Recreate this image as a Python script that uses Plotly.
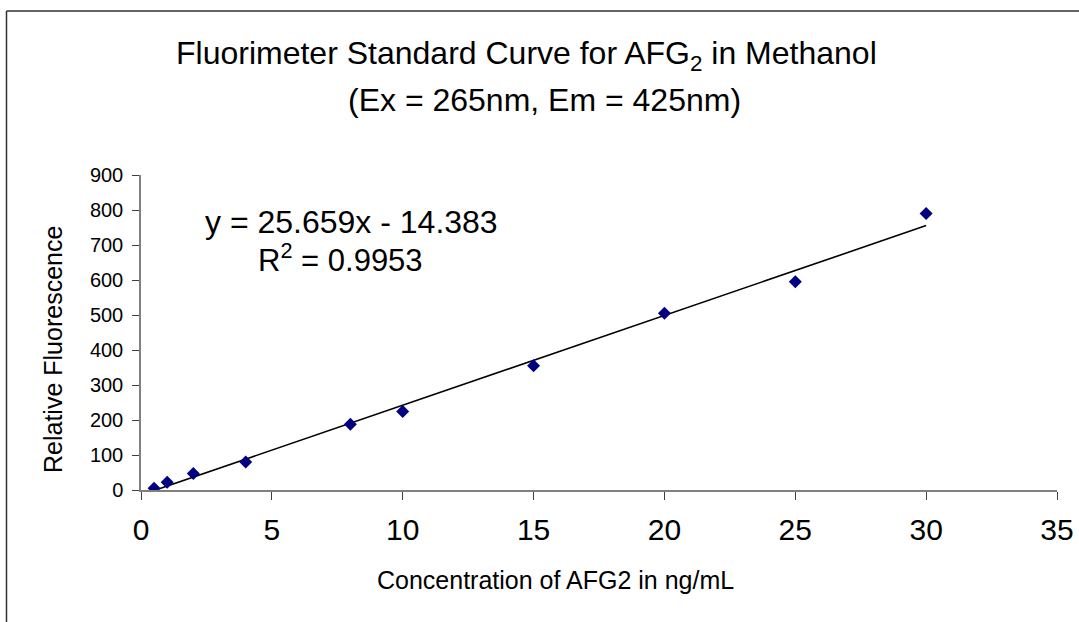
import plotly.graph_objects as go

conc = [0.5, 1, 2, 4, 8, 10, 15, 20, 25, 30]
fluor = [5, 22, 47, 80, 188, 224, 355, 505, 595, 790]
slope = 25.659
intercept = -14.383
x_ticks = [0, 5, 10, 15, 20, 25, 30, 35]
y_ticks = [0, 100, 200, 300, 400, 500, 600, 700, 800, 900]

trend_x = [min(conc), max(conc)]
trend_y = [slope * v + intercept for v in trend_x]

W, H = 1079, 622
ml, mr, mt, mb = 141, 22, 175, 132
pw = W - ml - mr
ph = H - mt - mb

def px(xp):
    return (xp - ml) / pw

def py(yp):
    return (H - mb - yp) / ph

font = "Liberation Sans, Arial, sans-serif"

fig = go.Figure()
fig.add_trace(go.Scatter(x=trend_x, y=trend_y, mode="lines",
                         line=dict(color="black", width=1.6), showlegend=False))
fig.add_trace(go.Scatter(x=conc, y=fluor, mode="markers",
                         marker=dict(symbol="diamond", color="#000080", size=10,
                                     line=dict(width=0)), showlegend=False))

fig.update_layout(
    width=W, height=H,
    margin=dict(l=ml, r=mr, t=mt, b=mb, autoexpand=False),
    paper_bgcolor="white", plot_bgcolor="white",
    font=dict(family=font, color="black"),
    xaxis=dict(range=[0, 35], tickvals=x_ticks, ticktext=[str(v) for v in x_ticks],
               showgrid=False, zeroline=False, showline=True, linecolor="#808080",
               linewidth=1.5, ticks="outside", ticklen=8, tickcolor="#404040",
               automargin=False, ticklabelstandoff=4,
               tickfont=dict(size=30, family=font)),
    yaxis=dict(range=[0, 900], tickvals=y_ticks, ticktext=[str(v) for v in y_ticks],
               showgrid=False, zeroline=False, showline=True, linecolor="#808080",
               linewidth=1.5, ticks="outside", ticklen=7, tickcolor="#404040",
               automargin=False, ticklabelstandoff=5,
               tickfont=dict(size=20, family=font)),
)

fig.add_annotation(x=px(526.5), xref="paper", y=py(55), yref="paper",
                   text="Fluorimeter Standard Curve for AFG<sub>2</sub> in Methanol",
                   showarrow=False, font=dict(size=32, family=font),
                   xanchor="center", yanchor="middle")
fig.add_annotation(x=px(544), xref="paper", y=py(100), yref="paper",
                   text="(Ex = 265nm, Em = 425nm)",
                   showarrow=False, font=dict(size=32, family=font),
                   xanchor="center", yanchor="middle")
fig.add_annotation(x=px(351), xref="paper", y=py(222), yref="paper",
                   text="y = 25.659x - 14.383",
                   showarrow=False, font=dict(size=32, family=font),
                   xanchor="center", yanchor="middle")
fig.add_annotation(x=px(256), xref="paper", y=py(258), yref="paper",
                   text="R<sup>2</sup> = 0.9953",
                   showarrow=False, font=dict(size=31, family=font),
                   xanchor="left", yanchor="middle")
fig.add_annotation(x=px(555.5), xref="paper", y=py(580), yref="paper",
                   text="Concentration of AFG2 in ng/mL",
                   showarrow=False, font=dict(size=25, family=font),
                   xanchor="center", yanchor="middle")
fig.add_annotation(x=px(53), xref="paper", y=py(350), yref="paper",
                   text="Relative Fluorescence", textangle=-90,
                   showarrow=False, font=dict(size=25, family=font),
                   xanchor="center", yanchor="middle")

# outer frame (left and top edges visible)
fig.add_shape(type="line", xref="paper", yref="paper",
              x0=px(6.5), x1=px(1085), y0=py(11), y1=py(11),
              line=dict(color="#303030", width=1.5))
fig.add_shape(type="line", xref="paper", yref="paper",
              x0=px(6.5), x1=px(6.5), y0=py(11), y1=py(630),
              line=dict(color="#303030", width=1.5))

fig.write_html("out.html", config={"displayModeBar": False},
               post_script="document.body.style.margin='0';document.body.style.padding='0';document.body.style.overflow='hidden';")
